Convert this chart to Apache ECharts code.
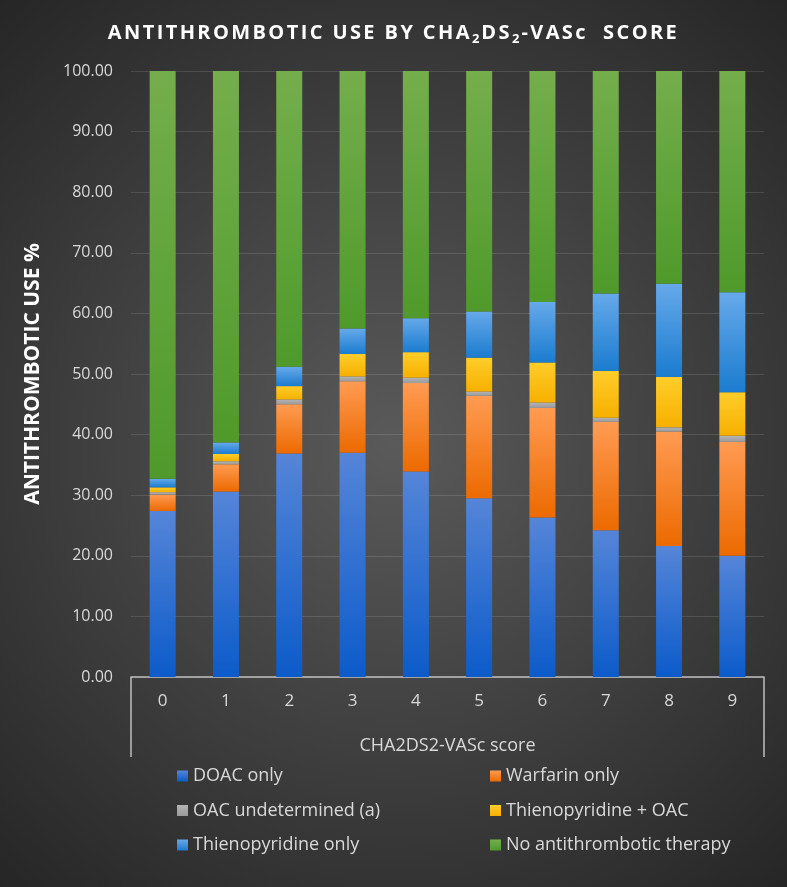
<!DOCTYPE html>
<html>
<head>
<meta charset="utf-8">
<script src="https://cdn.jsdelivr.net/npm/echarts@6/dist/echarts.min.js"></script>
<style>html,body{margin:0;padding:0;background:#333;}#c{width:787px;height:887px;}</style>
</head>
<body>
<div id="c"></div>
<script>
var categories = ['0','1','2','3','4','5','6','7','8','9'];
var seriesNames = ['DOAC only','Warfarin only','OAC undetermined (a)','Thienopyridine + OAC','Thienopyridine only','No antithrombotic therapy'];
var doacOnly     = [27.4, 30.6, 36.9, 37.0, 33.9, 29.5, 26.3, 24.2, 21.6, 20.0];
var warfarinOnly = [2.7, 4.5, 8.1, 11.8, 14.6, 16.9, 18.1, 17.9, 18.9, 18.8];
var oacUndet     = [0.4, 0.5, 0.8, 0.8, 0.9, 0.7, 0.9, 0.7, 0.7, 1.0];
var thienoOac    = [0.8, 1.2, 2.2, 3.7, 4.2, 5.6, 6.6, 7.7, 8.3, 7.2];
var thienoOnly   = [1.4, 1.9, 3.2, 4.2, 5.6, 7.6, 10.0, 12.8, 15.4, 16.5];
var noTherapy    = [67.3, 61.3, 48.8, 42.5, 40.8, 39.7, 38.1, 36.7, 35.1, 36.5];
var yTicks = {min: 0, max: 100, interval: 10};
// title pieces: [text, style] ('s' = subscript)
var titleParts = [['ANTITHROMBOTIC USE BY CHA','c'],['2','s'],['DS','c'],['2','s'],['-VASc  SCORE','c']];

var allData = [doacOnly, warfarinOnly, oacUndet, thienoOac, thienoOnly, noTherapy];
var grads = [
  ['#5585d8', '#0c5bca'],
  ['#ff9b52', '#ec6a00'],
  ['#b4b4b4', '#9a9a9a'],
  ['#ffcd2a', '#f6b000'],
  ['#66a9ea', '#1b7ccf'],
  ['#74ae4c', '#4f9a2b']
];
function lg(c){ return new echarts.graphic.LinearGradient(0,0,0,1,[{offset:0,color:c[0]},{offset:1,color:c[1]}]); }

// letter-spaced title built from the pieces, one rich fragment per character
var titleRich = titleParts.map(function(p){
  return p[0].split('').map(function(ch){ return '{' + p[1] + '|' + ch + '}'; }).join('');
}).join('');

var chart = echarts.init(document.getElementById('c'), null, {renderer:'canvas'});
var series = seriesNames.map(function(n,i){
  return {name:n, type:'bar', stack:'all', barWidth:26, data: allData[i],
    itemStyle:{color: lg(grads[i])}, emphasis:{disabled:true}};
});
var FONT = 'Open Sans';
var gridL = 131, gridR = 764, gridT = 71, gridB = 677;
var legendText = {color:'#d9d9d9', fontFamily:FONT, fontSize:18};
chart.setOption({
  animation:false,
  backgroundColor: new echarts.graphic.RadialGradient(0.5,0.5,0.75,[{offset:0,color:'#5a5a5a'},{offset:1,color:'#262626'}]),
  title:{
    text: titleRich,
    left:'center', top:16,
    textStyle:{color:'#ffffff', fontFamily:FONT, fontWeight:'bold', fontSize:20,
      rich:{
        c:{color:'#ffffff', fontFamily:FONT, fontWeight:'bold', fontSize:20, padding:[0,2.4,0,0]},
        s:{color:'#ffffff', fontFamily:FONT, fontWeight:'bold', fontSize:13, padding:[12,2,0,0]}
      }}
  },
  grid:{left:gridL, right:787-gridR, top:gridT, bottom:887-gridB, containLabel:false},
  legend:[
    {data:[seriesNames[0],seriesNames[2],seriesNames[4]], orient:'vertical', left:172, top:762, itemGap:16.5,
     itemWidth:11, itemHeight:11, icon:'rect', textStyle:legendText, selectedMode:false},
    {data:[seriesNames[1],seriesNames[3],seriesNames[5]], orient:'vertical', left:485, top:762, itemGap:16.5,
     itemWidth:11, itemHeight:11, icon:'rect', textStyle:legendText, selectedMode:false}
  ],
  xAxis:{type:'category', data:categories,
    axisLine:{lineStyle:{color:'#bfbfbf', width:1.5}},
    axisTick:{show:false},
    axisLabel:{color:'#d9d9d9', fontFamily:FONT, fontSize:17, margin:16},
    name:'CHA2DS2-VASc score', nameLocation:'middle', nameGap:60,
    nameTextStyle:{color:'#d9d9d9', fontFamily:FONT, fontSize:18}
  },
  yAxis:{type:'value', min:yTicks.min, max:yTicks.max, interval:yTicks.interval,
    axisLine:{show:false}, axisTick:{show:false},
    axisLabel:{color:'#d9d9d9', fontFamily:FONT, fontSize:16, margin:18, formatter:function(v){return v.toFixed(2);}},
    splitLine:{lineStyle:{color:'rgba(255,255,255,0.12)', width:1}},
    name:'ANTITHROMBOTIC USE %', nameLocation:'middle', nameGap:87,
    nameTextStyle:{color:'#ffffff', fontFamily:FONT, fontWeight:'bold', fontSize:21}
  },
  graphic:[
    {type:'line', shape:{x1:gridL, y1:gridB, x2:gridL, y2:757}, style:{stroke:'#bfbfbf', lineWidth:1.5}},
    {type:'line', shape:{x1:gridR, y1:gridB, x2:gridR, y2:757}, style:{stroke:'#bfbfbf', lineWidth:1.5}}
  ],
  series: series
});
</script>
</body>
</html>
